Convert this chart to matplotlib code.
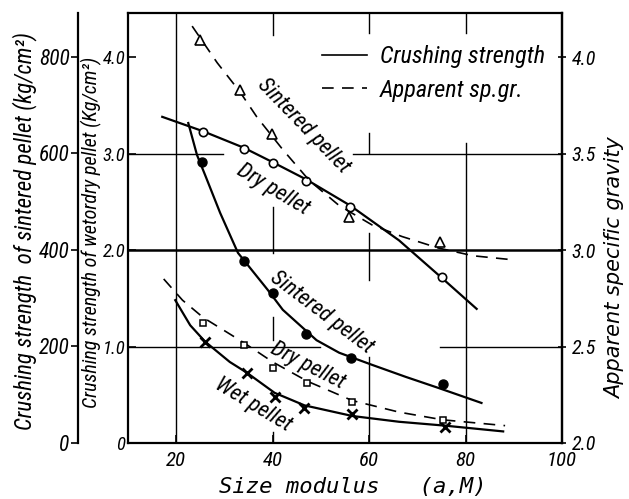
import matplotlib
matplotlib.use("Agg")
import matplotlib.pyplot as plt
from matplotlib.lines import Line2D

plt.rcParams["font.family"] = ["Roboto Condensed", "Liberation Sans Narrow", "DejaVu Sans"]
plt.rcParams["font.style"] = "italic"

# measured points (size modulus)
sg_sint_x = [24.9, 33.2, 39.8, 55.9, 74.8]
sg_sint_y = [4.09, 3.83, 3.60, 3.17, 3.04]
dry_x = [25.6, 34.0, 40.0, 47.0, 56.1, 75.1]
dry_y = [3.22, 3.05, 2.90, 2.71, 2.45, 1.72]
sint_x = [25.4, 34.0, 40.0, 47.0, 56.3, 75.3]
sint_y = [582, 377, 311, 226, 176, 122]
sg_dry_x = [25.6, 34.0, 40.0, 47.2, 56.5, 75.3]
sg_dry_y = [2.62, 2.51, 2.39, 2.31, 2.21, 2.12]
wet_x = [26.0, 34.6, 40.4, 46.6, 56.5, 75.7]
wet_y = [1.05, 0.73, 0.48, 0.36, 0.30, 0.17]

# hand drawn curves
c_sg_sint_x = [23.3, 28.5, 33.2, 36.7, 42.1, 47.6, 53.8, 60.6, 66.8, 74.4, 81.6, 89.5]
c_sg_sint_y = [4.16, 3.97, 3.82, 3.69, 3.52, 3.36, 3.23, 3.13, 3.07, 3.01, 2.97, 2.95]
c_dry_x = [17.1, 25.6, 34.0, 40.0, 47.0, 56.1, 66.2, 75.1, 82.3]
c_dry_y = [3.38, 3.23, 3.06, 2.91, 2.73, 2.46, 2.10, 1.71, 1.39]
c_sint_x = [22.5, 24.3, 26.0, 29.1, 32.8, 35.3, 39.0, 42.1, 49.1, 53.8, 60.6, 67.6, 74.4, 83.3]
c_sint_y = [663, 597, 555, 477, 394, 363, 317, 276, 213, 187, 162, 137, 114, 83]
c_sg_dry_x = [17.4, 21.3, 25.6, 34.0, 40.0, 47.2, 56.5, 66.2, 75.3, 88.2]
c_sg_dry_y = [2.85, 2.74, 2.65, 2.52, 2.42, 2.32, 2.22, 2.16, 2.12, 2.09]
c_wet_x = [19.8, 22.9, 26.0, 31.1, 34.6, 40.4, 46.6, 56.5, 66.2, 75.7, 87.8]
c_wet_y = [1.48, 1.22, 1.05, 0.84, 0.73, 0.52, 0.39, 0.28, 0.22, 0.18, 0.12]

x_ticks = [20, 40, 60, 80, 100]
inner_ticks = [0, 1, 2, 3, 4]
inner_labels = ["0", "1.0", "2.0", "3.0", "4.0"]
sint_ticks = [0, 200, 400, 600, 800]
sg_ticks = [2.0, 2.5, 3.0, 3.5, 4.0]

fig = plt.figure(figsize=(6.29, 4.99), dpi=100)
ax = fig.add_axes([128 / 629, 1 - 443 / 499, 434 / 629, 430 / 499])
ax.set_xlim(10, 100)
ax.set_ylim(0, 4.456)

# broken grid, as in the drawing
vgrid = {20: [(0, 1)], 40: [(0.949, 1), (0.442, 0.549), (0.240, 0.293), (0, 0.026)],
         60: [(0.953, 1), (0.674, 0.721), (0.379, 0.488), (0, 0.2)],
         80: [(0.953, 1), (0, 0.698)]}
for xv, segs in vgrid.items():
    for lo, hi in segs:
        ax.axvline(xv, lo, hi, color="black", lw=1.0, zorder=1)
hgrid = {1: [(0, 0.442), (0.719, 1)], 2: [(0, 1)], 3: [(0, 0.219), (0.518, 1)]}
for yv, segs in hgrid.items():
    for lo, hi in segs:
        ax.axhline(yv, lo, hi, color="black", lw=1.8 if yv == 2 else 1.0, zorder=1)

ax_sint = ax.twinx()
ax_sint.set_ylim(0, 891)
ax_sg = ax.twinx()
ax_sg.set_ylim(2.0, 4.228)

# crushing strength (solid)
ax.plot(c_dry_x, c_dry_y, color="black", lw=1.6)
ax.plot(dry_x, dry_y, "o", ms=6, mfc="white", mec="black", mew=1.2, zorder=5)
ax.plot(c_wet_x, c_wet_y, color="black", lw=1.6)
ax.plot(wet_x, wet_y, "x", ms=7, mec="black", mew=2.0, zorder=5)
ax_sint.plot(c_sint_x, c_sint_y, color="black", lw=1.6)
ax_sint.plot(sint_x, sint_y, "o", ms=6.5, color="black", zorder=5)

# apparent sp.gr. (dashed)
ax_sg.plot(c_sg_sint_x, c_sg_sint_y, color="black", lw=1.2, dashes=(7, 5))
ax_sg.plot(sg_sint_x, sg_sint_y, "^", ms=7, mfc="white", mec="black", mew=1.2, zorder=5)
ax_sg.plot(c_sg_dry_x, c_sg_dry_y, color="black", lw=1.2, dashes=(7, 5))
ax_sg.plot(sg_dry_x, sg_dry_y, "s", ms=5, mfc="white", mec="black", mew=1.1, zorder=5)

# axes and ticks
ax.set_xticks(x_ticks)
ax.set_xticklabels([str(v) for v in x_ticks])
ax.set_yticks(inner_ticks)
ax.set_yticklabels(inner_labels)
ax.tick_params(axis="x", direction="in", length=6, labelsize=15, width=1.2, pad=6)
ax.tick_params(axis="y", direction="in", length=6, labelsize=13.5, width=1.2, pad=2)
for s in ax.spines.values():
    s.set_linewidth(1.6)

ax_sint.yaxis.tick_left()
ax_sint.spines["left"].set_position(("outward", 36))
ax_sint.spines["left"].set_linewidth(1.6)
for side in ["right", "top", "bottom"]:
    ax_sint.spines[side].set_visible(False)
ax_sint.set_yticks(sint_ticks)
ax_sint.tick_params(axis="y", direction="out", length=5, labelsize=15.5, width=1.2, pad=1)

ax_sg.set_yticks(sg_ticks)
ax_sg.set_yticklabels([f"{v:.1f}" for v in sg_ticks])
ax_sg.tick_params(axis="y", direction="inout", length=6, labelsize=14.5, width=1.2, pad=4)
for side in ["left", "top", "bottom"]:
    ax_sg.spines[side].set_visible(False)
ax_sg.spines["right"].set_linewidth(1.6)

# labels on the curves
ax.text(46.3, 3.28, "Sintered pellet", rotation=-46, ha="center", va="center", fontsize=16)
ax.text(40.0, 2.63, "Dry pellet", rotation=-31, ha="center", va="center", fontsize=16)
ax.text(50.2, 1.35, "Sintered pellet", rotation=-37, ha="center", va="center", fontsize=16)
ax.text(47.2, 0.80, "Dry pellet", rotation=-27, ha="center", va="center", fontsize=16)
ax.text(35.9, 0.39, "Wet pellet", rotation=-31, ha="center", va="center", fontsize=16)

handles = [Line2D([], [], color="black", lw=1.2),
           Line2D([], [], color="black", lw=1.2, dashes=(7, 5))]
ax.legend(handles, ["Crushing strength", "Apparent sp.gr."], loc="upper left",
          bbox_to_anchor=(0.447, 0.925), frameon=False, fontsize=17.5,
          handlelength=1.85, handletextpad=0.53, labelspacing=0.44,
          borderpad=0, borderaxespad=0)

fig.text(25 / 629, 1 - 231 / 499, "Crushing strength  of sintered pellet (kg/cm²)",
         rotation=90, ha="center", va="center", fontsize=16.5)
fig.text(91 / 629, 1 - 232 / 499, "Crushing strength of wetordry pellet (Kg/cm²)",
         rotation=90, ha="center", va="center", fontsize=14.5)
fig.text(615 / 629, 1 - 268 / 499, "Apparent specific gravity", family="DejaVu Sans",
         rotation=90, ha="center", va="center", fontsize=15)
fig.text(353 / 629, 1 - 487 / 499, "Size modulus   (a,M)", family="DejaVu Sans Mono",
         style="oblique", ha="center", va="center", fontsize=16)

fig.savefig("out.png", dpi=100)
